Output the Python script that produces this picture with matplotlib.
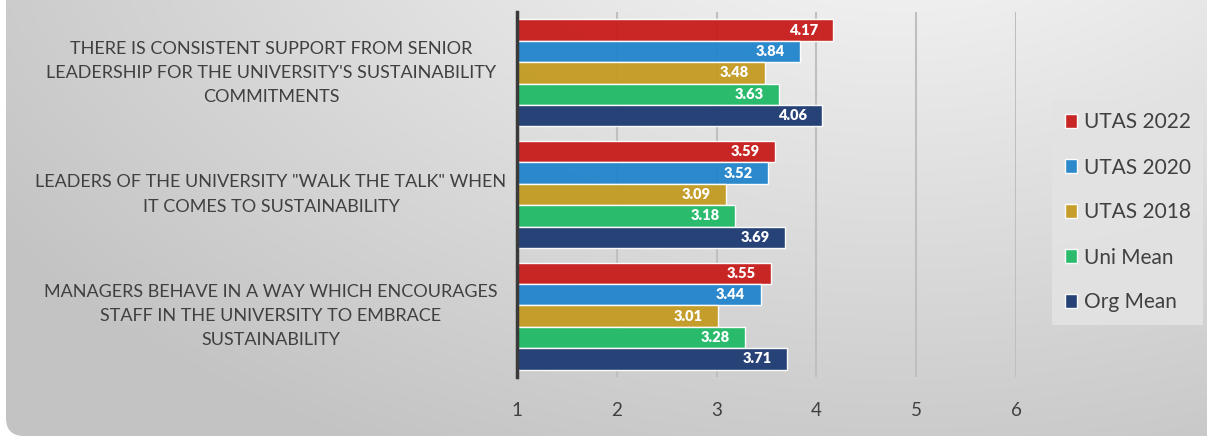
import numpy as np
import matplotlib
matplotlib.use("Agg")
from matplotlib import pyplot as plt
from matplotlib import transforms as mtrans
from matplotlib.patches import FancyBboxPatch

# Data
questions = [
    "THERE IS CONSISTENT SUPPORT FROM SENIOR\nLEADERSHIP FOR THE UNIVERSITY'S SUSTAINABILITY\nCOMMITMENTS",
    "LEADERS OF THE UNIVERSITY \"WALK THE TALK\" WHEN\nIT COMES TO SUSTAINABILITY",
    "MANAGERS BEHAVE IN A WAY WHICH ENCOURAGES\nSTAFF IN THE UNIVERSITY TO EMBRACE\nSUSTAINABILITY",
]
series = ["UTAS 2022", "UTAS 2020", "UTAS 2018", "Uni Mean", "Org Mean"]
utas_2022 = [4.17, 3.59, 3.55]
utas_2020 = [3.84, 3.52, 3.44]
utas_2018 = [3.48, 3.09, 3.01]
uni_mean = [3.63, 3.18, 3.28]
org_mean = [4.06, 3.69, 3.71]
x_ticks = [1, 2, 3, 4, 5, 6]

values = [utas_2022, utas_2020, utas_2018, uni_mean, org_mean]
colors = ["#C8201F", "#2586CC", "#C49C25", "#24BA69", "#213D74"]

plt.rcParams['font.family'] = ['Lato', 'DejaVu Sans']

fig = plt.figure(figsize=(12.07, 4.37), dpi=100)
fig.patch.set_facecolor("white")

# Gradient background panel with rounded corners
bg = fig.add_axes([0, 0, 1, 1])
bg.set_xlim(0, 1207)
bg.set_ylim(437, 0)
bg.axis("off")
yy, xx = np.mgrid[0:437, 0:1207]
dist = np.hypot((xx - 900) / 1.0, (yy + 150) * 1.6)
shade = 0.985 - 0.22 * np.clip(dist / 1100, 0, 1)
img = bg.imshow(np.dstack([shade] * 3), extent=(0, 1207, 437, 0), aspect="auto")
panel = FancyBboxPatch((6, -60), 1260, 496, boxstyle="round,pad=0,rounding_size=18",
                       transform=bg.transData, facecolor="none", edgecolor="none")
bg.add_patch(panel)
img.set_clip_path(panel)

# Main axes
ax = fig.add_axes([517 / 1207, 1 - 377 / 437, (1016 - 517) / 1207, (377 - 12) / 437])
ax.set_facecolor("none")

bar_h = 0.176
n = len(series)
centers = np.arange(len(questions))
for i, (name, vals, col) in enumerate(zip(series, values, colors)):
    ypos = centers + (i - (n - 1) / 2) * bar_h
    widths = np.array(vals) - 1
    ax.barh(ypos, widths, left=1, height=bar_h, color=col, alpha=0.97,
            edgecolor=(1, 1, 1, 0.5), linewidth=1.0, label=name, zorder=3)
    for y, v in zip(ypos, vals):
        ax.annotate(f"{v:.2f}", xy=(v, y), xytext=(-11, 0), textcoords="offset points",
                    ha="right", va="center", color="white", fontsize=10.5,
                    fontweight="heavy", zorder=4)

ax.set_xlim(1, 6)
ax.set_ylim(len(questions) - 0.5, -0.5)
ax.set_xticks(x_ticks)
ax.set_xticklabels([str(t) for t in x_ticks], fontsize=13.5, color="#404040")
ax.set_yticks(centers)
ax.set_yticklabels([])
ax.tick_params(axis="both", length=0, pad=18)
ax.xaxis.grid(True, color="#BFBFBF", linewidth=1.5, zorder=0)
ax.set_axisbelow(True)
for s in ["top", "right", "bottom"]:
    ax.spines[s].set_visible(False)
ax.spines["left"].set_color("#3A3A3A")
ax.spines["left"].set_linewidth(2.5)
ax.spines["left"].set_zorder(5)

# Category labels centred to the left of the axis
trans = mtrans.blended_transform_factory(bg.transData, ax.transData)
for c, q in zip(centers, questions):
    ax.text(271, c, q, transform=trans, ha="center", va="center", fontsize=13,
            color="#404040", linespacing=1.62)

leg = fig.legend(loc="upper left", bbox_to_anchor=(1052 / 1207, 1 - 100 / 437),
                 frameon=True, fontsize=15, handlelength=0.62, handleheight=0.62,
                 handletextpad=0.3, labelspacing=1.2, borderpad=0.6,
                 borderaxespad=0, labelcolor="#404040", fancybox=False)
leg.get_frame().set_facecolor("#E3E3E3")
leg.get_frame().set_edgecolor("none")
leg.get_frame().set_alpha(0.9)

fig.savefig("out.png", dpi=100)
